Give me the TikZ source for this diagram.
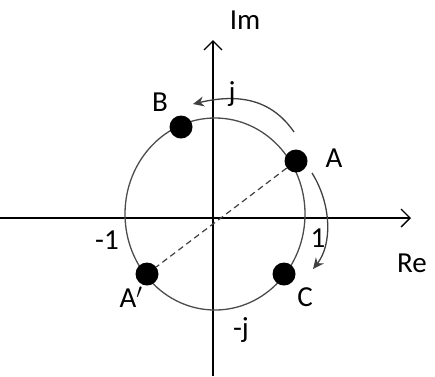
\documentclass[tikz,border=0pt]{standalone}
\usepackage{fontspec}
\setmainfont{Carlito}
\usetikzlibrary{arrows.meta}
\begin{document}
\begin{tikzpicture}[x=1pt,y=-1pt,
  lbl/.style={font=\fontsize{29}{33}\selectfont, inner sep=0pt},
  dot/.style={circle, fill=black, minimum size=23pt, inner sep=0pt},
  axis/.style={line width=1.3pt, -{Straight Barb[length=9pt,width=18pt,line width=1.3pt]}},
  rot/.style={line width=1.3pt, draw=black!75, -{Stealth[length=11pt,width=10pt]}}]
\useasboundingbox (0,0) rectangle (435,376);
\coordinate (xl) at (0,218);
\coordinate (xr) at (411,218);
\coordinate (yb) at (213,376);
\coordinate (yt) at (213,40);
\draw[axis] (xl) -- (xr);
\draw[axis] (yb) -- (yt);
\draw[line width=1.3pt, draw=black!70] (215,214) ellipse [x radius=90, y radius=96];
\node[dot] (A) at (296,161) {};
\node[dot] (B) at (181,127) {};
\node[dot] (Ap) at (147,274) {};
\node[dot] (C) at (284,274) {};
\draw[line width=1.2pt, dashed, dash pattern=on 6pt off 4pt, draw=black!75] (A) -- (Ap);
\coordinate (j1) at (294,132);
\coordinate (j2) at (193,104);
\draw[rot] (j1) .. controls (272,100) and (240,93) .. (j2);
\coordinate (c1) at (312,173);
\coordinate (c2) at (313,269);
\draw[rot] (c1) .. controls (332,205) and (332,245) .. (c2);
\node[lbl] (Im) at (245,20) {Im};
\node[lbl] (Re) at (412,263) {Re};
\node[lbl] (lB) at (160,102) {B};
\node[lbl] (lA) at (334,158) {A};
\node[lbl] (lm1) at (107,240) {-1};
\node[lbl] (lAp) at (131,297) {A$'$};
\node[lbl] (lC) at (305,297) {C};
\node[lbl] (lmj) at (241,330) {-j};
\node[lbl] (lj) at (232,94) {j};
\node[lbl] (l1) at (318,238) {1};
\end{tikzpicture}
\end{document}
